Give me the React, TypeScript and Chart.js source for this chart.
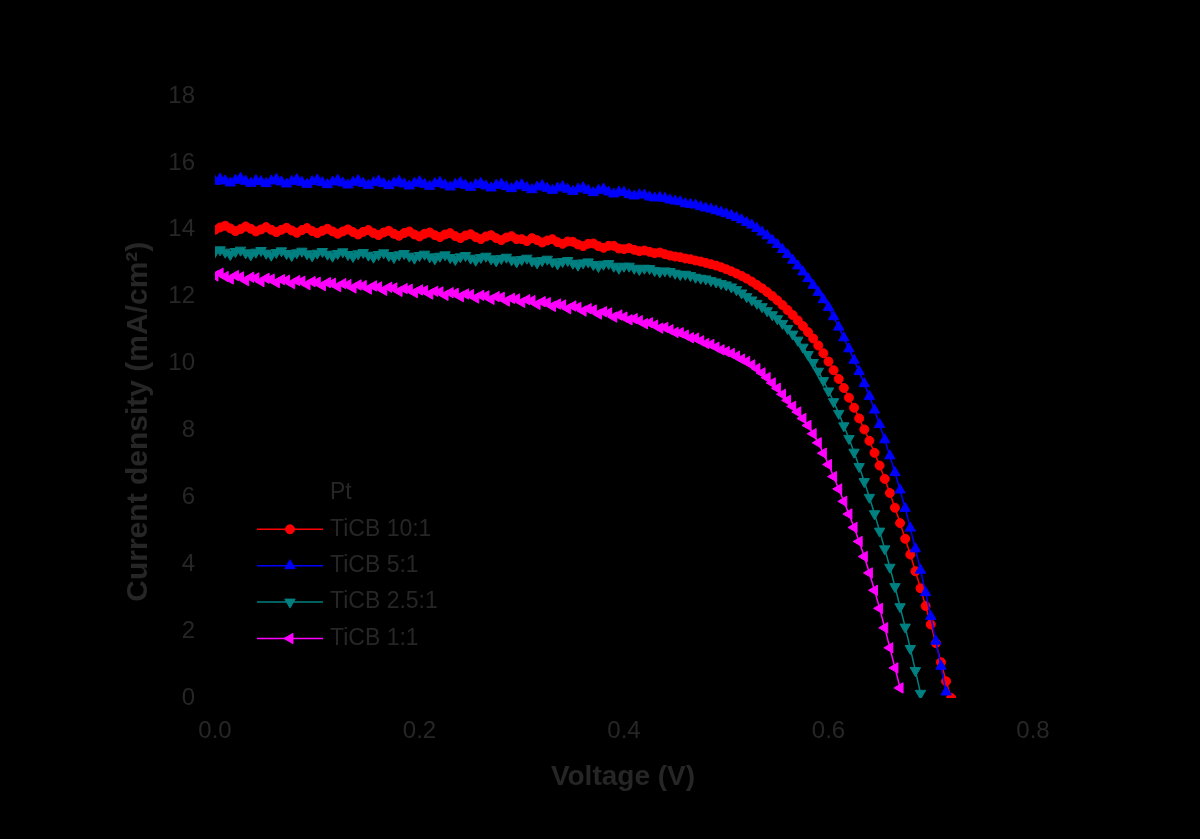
import React, { useEffect, useRef } from 'react';
import { Chart, registerables } from 'chart.js';
import { drawPoint } from 'chart.js/helpers';

Chart.register(...registerables);

// Applied voltage sweep (V)
const voltage = [
  0, 0.005, 0.01, 0.015, 0.02, 0.025, 0.03, 0.035, 0.04, 0.045,
  0.05, 0.055, 0.06, 0.065, 0.07, 0.075, 0.08, 0.085, 0.09, 0.095,
  0.1, 0.105, 0.11, 0.115, 0.12, 0.125, 0.13, 0.135, 0.14, 0.145,
  0.15, 0.155, 0.16, 0.165, 0.17, 0.175, 0.18, 0.185, 0.19, 0.195,
  0.2, 0.205, 0.21, 0.215, 0.22, 0.225, 0.23, 0.235, 0.24, 0.245,
  0.25, 0.255, 0.26, 0.265, 0.27, 0.275, 0.28, 0.285, 0.29, 0.295,
  0.3, 0.305, 0.31, 0.315, 0.32, 0.325, 0.33, 0.335, 0.34, 0.345,
  0.35, 0.355, 0.36, 0.365, 0.37, 0.375, 0.38, 0.385, 0.39, 0.395,
  0.4, 0.405, 0.41, 0.415, 0.42, 0.425, 0.43, 0.435, 0.44, 0.445,
  0.45, 0.455, 0.46, 0.465, 0.47, 0.475, 0.48, 0.485, 0.49, 0.495,
  0.5, 0.505, 0.51, 0.515, 0.52, 0.525, 0.53, 0.535, 0.54, 0.545,
  0.55, 0.555, 0.56, 0.565, 0.57, 0.575, 0.58, 0.585, 0.59, 0.595,
  0.6, 0.605, 0.61, 0.615, 0.62, 0.625, 0.63, 0.635, 0.64, 0.645,
  0.65, 0.655, 0.66, 0.665, 0.67, 0.675, 0.68, 0.685, 0.69, 0.695,
  0.7, 0.705, 0.71, 0.715, 0.72,
];

// Current density (mA/cm²) for each counter electrode
const jTiCB10 = [
  14.00, 14.07, 14.12, 14.04, 13.96, 14.02, 14.10, 14.03, 13.95, 14.01,
  14.08, 14.00, 13.93, 14.00, 14.06, 13.98, 13.91, 13.99, 14.05, 13.96,
  13.90, 13.97, 14.03, 13.95, 13.88, 13.95, 14.01, 13.93, 13.86, 13.94,
  13.99, 13.90, 13.84, 13.92, 13.97, 13.88, 13.82, 13.90, 13.95, 13.86,
  13.80, 13.88, 13.92, 13.84, 13.78, 13.86, 13.90, 13.81, 13.75, 13.83,
  13.87, 13.78, 13.72, 13.80, 13.84, 13.75, 13.69, 13.77, 13.81, 13.72,
  13.72, 13.66, 13.75, 13.69, 13.62, 13.68, 13.72, 13.63, 13.58, 13.65,
  13.64, 13.56, 13.51, 13.58, 13.59, 13.51, 13.46, 13.52, 13.52, 13.44,
  13.42, 13.45, 13.40, 13.36, 13.38, 13.34, 13.30, 13.32, 13.27, 13.23,
  13.20, 13.18, 13.14, 13.12, 13.08, 13.05, 13.01, 12.97, 12.93, 12.88,
  12.82, 12.76, 12.69, 12.62, 12.54, 12.45, 12.35, 12.25, 12.14, 12.02,
  11.89, 11.75, 11.60, 11.45, 11.29, 11.12, 10.94, 10.75, 10.54, 10.31,
  10.06, 9.80, 9.54, 9.27, 8.98, 8.68, 8.36, 8.03, 7.69, 7.33,
  6.95, 6.55, 6.13, 5.69, 5.23, 4.76, 4.29, 3.79, 3.28, 2.75,
  2.20, 1.64, 1.07, 0.50, 0.00,
];
const jTiCB5 = [
  15.45, 15.52, 15.46, 15.40, 15.48, 15.54, 15.45, 15.39, 15.47, 15.44,
  15.38, 15.46, 15.51, 15.43, 15.37, 15.45, 15.50, 15.42, 15.36, 15.44,
  15.49, 15.41, 15.35, 15.43, 15.48, 15.40, 15.34, 15.42, 15.47, 15.39,
  15.33, 15.41, 15.46, 15.38, 15.32, 15.40, 15.45, 15.37, 15.31, 15.39,
  15.44, 15.36, 15.30, 15.38, 15.42, 15.34, 15.28, 15.36, 15.41, 15.33,
  15.27, 15.35, 15.39, 15.31, 15.25, 15.33, 15.37, 15.29, 15.23, 15.31,
  15.35, 15.26, 15.20, 15.28, 15.32, 15.24, 15.18, 15.25, 15.29, 15.21,
  15.15, 15.22, 15.26, 15.18, 15.11, 15.18, 15.22, 15.13, 15.07, 15.13,
  15.12, 15.05, 15.01, 15.05, 15.04, 14.98, 14.95, 14.97, 14.94, 14.89,
  14.86, 14.84, 14.78, 14.76, 14.74, 14.69, 14.65, 14.62, 14.57, 14.53,
  14.48, 14.43, 14.37, 14.30, 14.22, 14.14, 14.04, 13.93, 13.82, 13.69,
  13.56, 13.41, 13.26, 13.09, 12.92, 12.74, 12.54, 12.34, 12.13, 11.91,
  11.68, 11.40, 11.09, 10.77, 10.44, 10.10, 9.76, 9.40, 9.02, 8.61,
  8.18, 7.72, 7.24, 6.74, 6.22, 5.67, 5.08, 4.46, 3.82, 3.15,
  2.44, 1.70, 0.95, 0.18,
];
const jTiCB25 = [
  13.34, 13.40, 13.33, 13.26, 13.35, 13.39, 13.31, 13.25, 13.33, 13.38,
  13.30, 13.24, 13.32, 13.37, 13.29, 13.23, 13.31, 13.36, 13.28, 13.22,
  13.30, 13.35, 13.27, 13.21, 13.29, 13.34, 13.26, 13.20, 13.28, 13.32,
  13.24, 13.18, 13.26, 13.31, 13.23, 13.17, 13.25, 13.29, 13.21, 13.15,
  13.23, 13.27, 13.19, 13.13, 13.21, 13.25, 13.17, 13.11, 13.19, 13.23,
  13.15, 13.09, 13.17, 13.21, 13.13, 13.07, 13.14, 13.18, 13.10, 13.04,
  13.11, 13.15, 13.07, 13.01, 13.08, 13.12, 13.04, 12.98, 13.05, 13.08,
  13.00, 12.94, 13.01, 13.04, 12.96, 12.90, 12.97, 12.99, 12.91, 12.85,
  12.91, 12.91, 12.85, 12.81, 12.85, 12.84, 12.78, 12.74, 12.77, 12.75,
  12.70, 12.66, 12.67, 12.63, 12.58, 12.55, 12.53, 12.48, 12.44, 12.39,
  12.35, 12.29, 12.21, 12.11, 12.00, 11.90, 11.80, 11.70, 11.58, 11.46,
  11.34, 11.20, 11.05, 10.88, 10.70, 10.49, 10.27, 10.03, 9.77, 9.49,
  9.18, 8.86, 8.51, 8.14, 7.76, 7.35, 6.92, 6.47, 6.00, 5.51,
  4.99, 4.46, 3.91, 3.33, 2.73, 2.12, 1.48, 0.82, 0.14,
];
const jTiCB11 = [
  12.62, 12.70, 12.60, 12.53, 12.63, 12.59, 12.48, 12.58, 12.56, 12.45,
  12.55, 12.52, 12.42, 12.51, 12.49, 12.39, 12.48, 12.46, 12.36, 12.45,
  12.43, 12.33, 12.42, 12.40, 12.30, 12.39, 12.36, 12.26, 12.35, 12.33,
  12.23, 12.32, 12.29, 12.19, 12.28, 12.26, 12.16, 12.24, 12.22, 12.12,
  12.20, 12.18, 12.08, 12.16, 12.14, 12.04, 12.12, 12.10, 12.00, 12.08,
  12.06, 11.96, 12.04, 12.02, 11.92, 12.00, 11.98, 11.87, 11.95, 11.93,
  11.83, 11.91, 11.88, 11.77, 11.85, 11.82, 11.71, 11.78, 11.75, 11.64,
  11.72, 11.68, 11.57, 11.64, 11.60, 11.48, 11.55, 11.51, 11.39, 11.45,
  11.39, 11.31, 11.34, 11.28, 11.19, 11.22, 11.15, 11.06, 11.08, 11.01,
  10.93, 10.92, 10.85, 10.77, 10.76, 10.68, 10.60, 10.57, 10.49, 10.41,
  10.36, 10.30, 10.22, 10.13, 10.06, 9.96, 9.85, 9.72, 9.58, 9.42,
  9.26, 9.08, 8.90, 8.72, 8.55, 8.36, 8.15, 7.90, 7.63, 7.32,
  6.98, 6.62, 6.25, 5.88, 5.50, 5.10, 4.68, 4.23, 3.74, 3.22,
  2.68, 2.10, 1.50, 0.90, 0.30,
];

const seriesLabels = ['TiCB 10:1', 'TiCB 5:1', 'TiCB 2.5:1', 'TiCB 1:1'];
const seriesColors = ['#FF0000', '#0000FF', '#008080', '#FF00FF'];
const pointStyles = ['circle', 'triangle', 'triangle', 'triangle'];
const pointRotations = [0, 0, 180, 270];
const pointRadii = [4.5, 6, 6, 6];
const drawOrder = [1, 0, 2, 3];

const legendTitle = 'Pt';
const xTitle = 'Voltage (V)';
const yTitle = 'Current density (mA/cm²)';

const FONT = '"Liberation Sans", Arial, Helvetica, sans-serif';
const TEXT = '#262626';
const AXIS = '#000000';
const BG = '#000000';

const bgPlugin = {
  id: 'bg',
  beforeDraw(chart: any) {
    const c = chart.ctx;
    c.save();
    c.fillStyle = BG;
    c.fillRect(0, 0, chart.width, chart.height);
    c.restore();
  },
};

const titlePlugin = {
  id: 'axisTitles',
  afterDraw(chart: any) {
    const c = chart.ctx;
    c.save();
    c.fillStyle = TEXT;
    c.textAlign = 'center';
    c.textBaseline = 'middle';
    c.font = `bold 28px ${FONT}`;
    c.fillText(xTitle, 623, 777);
    c.translate(139, 421.7);
    c.rotate(-Math.PI / 2);
    c.font = `bold 30px ${FONT}`;
    c.fillText(yTitle, 0, 0);
    c.restore();
  },
};

const legendPlugin = {
  id: 'customLegend',
  afterDraw(chart: any) {
    const c = chart.ctx;
    c.save();
    c.font = `23px ${FONT}`;
    c.textAlign = 'left';
    c.textBaseline = 'middle';
    c.fillStyle = TEXT;
    c.fillText(legendTitle, 330, 493);
    chart.data.datasets.forEach((ds: any, k: number) => {
      const y = 529.3 + k * 36.4;
      c.strokeStyle = ds.borderColor;
      c.lineWidth = 1.5;
      c.beginPath();
      c.moveTo(257, y);
      c.lineTo(323, y);
      c.stroke();
      c.fillStyle = ds.pointBackgroundColor;
      c.strokeStyle = ds.pointBorderColor;
      c.lineWidth = 1;
      drawPoint(c, {
        pointStyle: ds.pointStyle,
        rotation: ds.pointRotation,
        radius: ds.pointRadius,
        borderWidth: 1,
      }, 290, y);
      c.fillStyle = TEXT;
      c.fillText(ds.label, 330, y);
    });
    c.restore();
  },
};

export default function App() {
  const ref = useRef<HTMLCanvasElement>(null);
  useEffect(() => {
    document.body.style.margin = '0';
    document.body.style.background = BG;
    const canvas = ref.current;
    if (!canvas) return;
    const series = [jTiCB10, jTiCB5, jTiCB25, jTiCB11];
    const datasets = series.map((s, k) => ({
      label: seriesLabels[k],
      data: s.map((y, i) => ({ x: voltage[i], y })),
      borderColor: seriesColors[k],
      backgroundColor: seriesColors[k],
      pointBackgroundColor: seriesColors[k],
      pointBorderColor: seriesColors[k],
      pointStyle: pointStyles[k],
      pointRotation: pointRotations[k],
      pointRadius: pointRadii[k],
      pointBorderWidth: 1,
      borderWidth: 1.5,
      tension: 0,
      fill: false,
      order: drawOrder[k],
    }));
    const tickFont = { family: FONT, size: 24 };
    const chart = new Chart(canvas, {
      type: 'line',
      data: { datasets } as any,
      options: {
        animation: false,
        responsive: false,
        events: [],
        layout: { padding: { left: 120, right: 167, top: 96, bottom: 81 } },
        plugins: { legend: { display: false }, tooltip: { enabled: false } },
        scales: {
          x: {
            type: 'linear',
            min: 0,
            max: 0.8,
            ticks: {
              stepSize: 0.2,
              font: tickFont,
              color: TEXT,
              padding: 19,
              callback: (v: any) => Number(v).toFixed(1),
            },
            grid: { display: false, drawTicks: false },
            border: { display: true, color: AXIS, width: 1.5 },
            afterFit: (s: any) => { s.height = 60; },
          },
          y: {
            type: 'linear',
            min: 0,
            max: 18,
            ticks: {
              stepSize: 2,
              font: tickFont,
              color: TEXT,
              padding: 20,
            },
            grid: { display: false, drawTicks: false },
            border: { display: true, color: AXIS, width: 1.5 },
            afterFit: (s: any) => { s.width = 95; },
          },
        },
      } as any,
      plugins: [bgPlugin, titlePlugin, legendPlugin],
    });
    return () => chart.destroy();
  }, []);
  return <canvas ref={ref} width={1200} height={839} style={{ display: 'block' }} />;
}
